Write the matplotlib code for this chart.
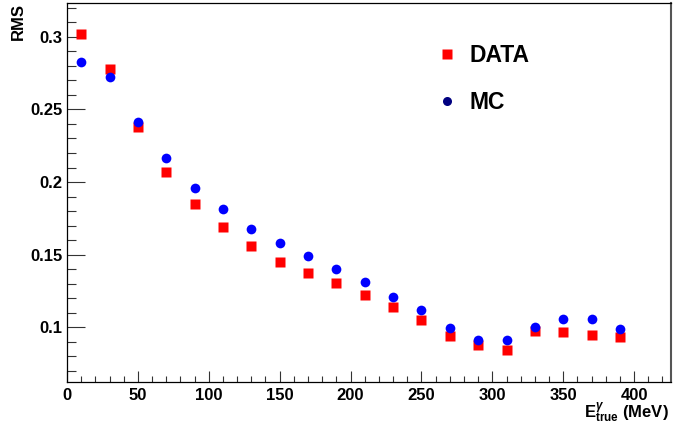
import matplotlib
matplotlib.use("Agg")
import matplotlib.pyplot as plt
from matplotlib.lines import Line2D
from matplotlib.ticker import MultipleLocator

# energy bins (MeV) and RMS values
e_true = [10, 30, 50, 70, 90, 110, 130, 150, 170, 190,
          210, 230, 250, 270, 290, 310, 330, 350, 370, 390]
rms_data = [0.302, 0.2778, 0.2377, 0.2072, 0.1850, 0.1690, 0.1560, 0.1452, 0.1372, 0.1305,
            0.1222, 0.1138, 0.1050, 0.0942, 0.0880, 0.0842, 0.0977, 0.0966, 0.0949, 0.0931]
rms_mc = [0.2826, 0.2721, 0.2411, 0.2166, 0.1960, 0.1814, 0.1678, 0.1580, 0.1492, 0.1400,
          0.1310, 0.1207, 0.1121, 0.0993, 0.0915, 0.0911, 0.1004, 0.1059, 0.1059, 0.0988]

plt.rcParams['font.family'] = ['Liberation Sans', 'DejaVu Sans']
plt.rcParams['font.weight'] = 'bold'
plt.rcParams['mathtext.fontset'] = 'custom'
plt.rcParams['mathtext.rm'] = 'Liberation Sans:bold'
plt.rcParams['mathtext.bf'] = 'Liberation Sans:bold'
plt.rcParams['mathtext.it'] = 'Liberation Sans:italic'

fig = plt.figure(figsize=(6.73, 4.29), dpi=100)
ax = fig.add_axes([67/673, 47/429, 604/673, 379/429])

# DATA first so MC circles sit on top, like the original
ax.plot(e_true, rms_data, 's', color='#ff0000', ms=6.5, mec='none')
ax.plot(e_true, rms_mc, 'o', color='#0000ff', ms=7, mec='none')

ax.set_xlim(0, 426)
ax.set_ylim(0.0624, 0.3232)

ax.xaxis.set_major_locator(MultipleLocator(50))
ax.xaxis.set_minor_locator(MultipleLocator(10))
ax.yaxis.set_major_locator(MultipleLocator(0.05))
ax.yaxis.set_minor_locator(MultipleLocator(0.01))
ax.set_yticks([0.1, 0.15, 0.2, 0.25, 0.3])
ax.set_yticklabels(['0.1', '0.15', '0.2', '0.25', '0.3'])

ax.tick_params(axis='both', which='both', direction='in', width=0.8, color='#333333',
               labelsize=12, top=False, right=False)
ax.tick_params(axis='y', which='major', length=13, pad=3.5)
ax.tick_params(axis='y', which='minor', length=6.5)
ax.tick_params(axis='x', which='major', length=8, pad=4)
ax.tick_params(axis='x', which='minor', length=4.3)

for s in ['left', 'bottom', 'top']:
    ax.spines[s].set_linewidth(0.9)
ax.spines['right'].set_linewidth(1.5)
ax.spines['right'].set_color('#555555')

ax.set_ylabel('RMS', fontsize=12, fontweight='bold', loc='top', labelpad=3)
fig.text(669/673, 1 - 418/429, r'$\mathrm{E}^{\gamma}_{\mathrm{true}}$ (MeV)',
         ha='right', va='baseline', fontsize=12, fontweight='bold')

handles = [Line2D([], [], ls='none', marker='s', color='#ff0000', ms=6.5, mec='none'),
           Line2D([], [], ls='none', marker='o', color='#000080', ms=6.5, mec='none')]
ax.legend(handles, ['DATA', 'MC'], loc='upper left', bbox_to_anchor=(435.5/673, 1 - 44/429),
          bbox_transform=fig.transFigure, frameon=False, borderpad=0, borderaxespad=0,
          handlelength=1.0, handletextpad=0.5, labelspacing=1.03,
          prop={'size': 16.5, 'weight': 'bold'})

fig.savefig('out.png', dpi=100)
